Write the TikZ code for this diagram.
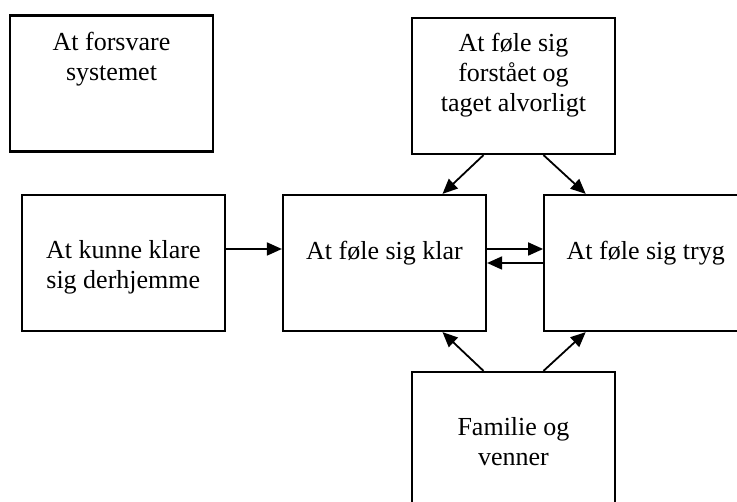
\documentclass[tikz,border=0pt]{standalone}
\usepackage{fontspec}
\setmainfont{Liberation Serif}
\usetikzlibrary{positioning,arrows.meta}

\begin{document}
\begin{tikzpicture}[x=1pt, y=-1pt, >={Triangle[length=15pt,width=13pt]},
	boks/.style={draw, line width=2.2pt, minimum width=203pt, minimum height=136pt, inner sep=0pt},
	tekst/.style={align=center, font=\fontsize{26}{30}\selectfont, inner sep=0pt, anchor=base},
	pil/.style={->, line width=1.8pt}]
		\useasboundingbox (0,0) rectangle (737,502);
		
		\node[boks] (forsvare) at (111.5,83.5) {};
		\node[boks] (klar) at (384.5,263) {};
		\node[boks, left=56pt of klar] (hjemme) {};
		\node[boks, right=56pt of klar] (tryg) {};
		\node[boks] (forstaaet) at (513.5,86) {};
		\node[boks] (familie) at (513.5,440) {};
		
		% base = baseline of the last line
		\node[tekst] (t-forsvare) at ([yshift=-66pt]forsvare.north) {At forsvare\\systemet};
		\node[tekst] (t-forstaaet) at ([yshift=-95pt]forstaaet.north) {At føle sig\\forstået og\\taget alvorligt};
		\node[tekst] (t-hjemme) at ([yshift=-95pt]hjemme.north) {At kunne klare\\sig derhjemme};
		\node[tekst] (t-klar) at ([yshift=-66pt]klar.north) {At føle sig klar};
		\node[tekst] (t-tryg) at ([yshift=-66pt]tryg.north) {At føle sig tryg};
		\node[tekst] (t-familie) at ([yshift=-95pt]familie.north) {Familie og\\venner};
		
		\draw[pil] ([yshift=14pt]hjemme.east) -- ([yshift=14pt]klar.west);
		\draw[pil] ([yshift=14pt]klar.east) -- ([yshift=14pt]tryg.west);
		\draw[pil] (tryg.west) -- (klar.east);
		
		\draw[pil] ([xshift=-30pt]forstaaet.south) -- ([xshift=58pt]klar.north);
		\draw[pil] ([xshift=30pt]forstaaet.south) -- ([xshift=-60pt]tryg.north);
		\draw[pil] ([xshift=-30pt]familie.north) -- ([xshift=58pt]klar.south);
		\draw[pil] ([xshift=30pt]familie.north) -- ([xshift=-60pt]tryg.south);
	\end{tikzpicture}
\end{document}
